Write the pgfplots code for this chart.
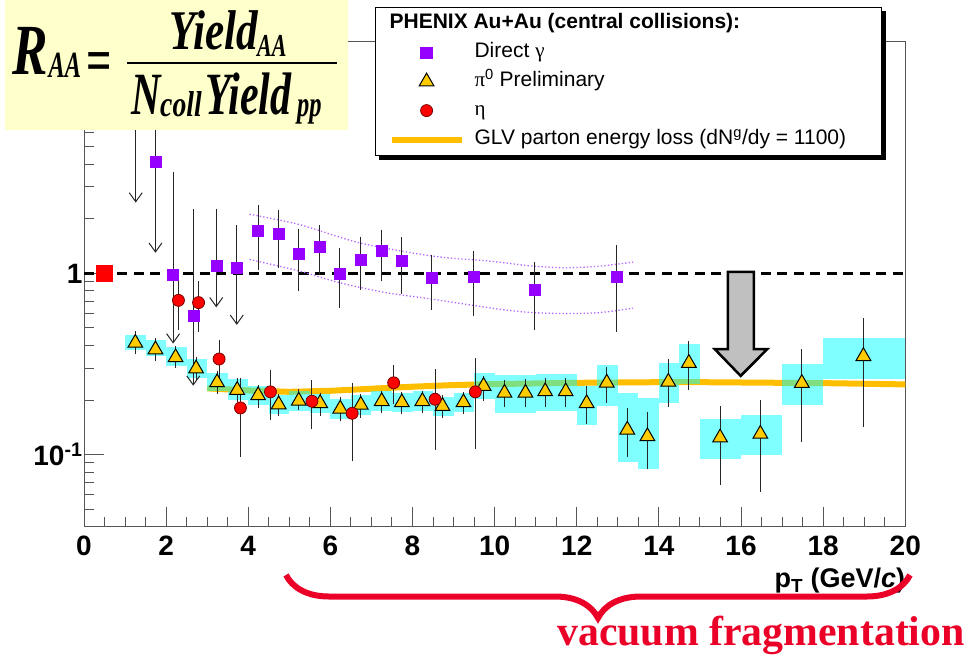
\documentclass[border=0pt]{standalone}
\usepackage{fontspec}
\setmainfont{Liberation Sans}
\newfontfamily\timesfont{Liberation Serif}
\usepackage{graphicx}
\usepackage{pgfplots}
\usepackage{pgfplotstable}
\pgfplotsset{compat=1.18}
\usetikzlibrary{arrows.meta,decorations.pathreplacing}

\definecolor{dgamma}{RGB}{150,0,255}
\definecolor{pizero}{RGB}{255,204,0}
\definecolor{etared}{RGB}{255,0,0}
\definecolor{etaedge}{RGB}{120,0,0}
\definecolor{glv}{RGB}{255,190,0}
\definecolor{sysbox}{RGB}{0,255,255}
\definecolor{bandline}{RGB}{180,100,255}
\definecolor{formulabg}{RGB}{255,255,204}
\definecolor{bracered}{RGB}{235,0,40}
\definecolor{axisgray}{RGB}{85,85,85}
\definecolor{arrowgray}{RGB}{192,192,192}

% bold italic serif, condensed horizontally: {size}{x scale}{text}
\newcommand\fm[3]{\scalebox{#2}[1]{\fontsize{#1}{#1}\timesfont\bfseries\itshape #3}}

\pgfplotsset{
  mleg/.style={legend image code/.code={\draw[##1] plot[only marks, mark repeat=2, mark phase=2] coordinates {(0pt,0pt) (35pt,0pt) (70pt,0pt)};}},
  lleg/.style={legend image code/.code={\draw[##1] (0pt,0pt) -- (70pt,0pt);}},
  ebar/.style={error bars/.cd, y dir=both, y explicit, error mark=-,
    error bar style={black!85, line width=1pt},
    error mark options={black!85, line width=1pt, mark size=2pt}},
  limit/.style={black!85, line width=1pt, -{Straight Barb[length=9pt,width=13pt,line width=1pt]}, forget plot},
}

% pi0 R_AA: pT, value, stat. minus, stat. plus
\pgfplotstableread{
x     y     em    ep
1.25  0.413 0.046 0.055
1.74  0.380 0.045 0.049
2.23  0.344 0.034 0.044
2.73  0.298 0.033 0.037
3.24  0.250 0.028 0.033
3.73  0.227 0.027 0.030
4.24  0.212 0.026 0.025
4.74  0.189 0.022 0.022
5.23  0.198 0.018 0.027
5.75  0.192 0.024 0.022
6.24  0.179 0.022 0.023
6.74  0.188 0.024 0.023
7.25  0.197 0.022 0.023
7.74  0.194 0.022 0.023
8.24  0.197 0.022 0.023
8.73  0.185 0.022 0.023
9.24  0.194 0.022 0.023
9.73  0.239 0.035 0.027
10.24 0.219 0.032 0.033
10.75 0.219 0.030 0.035
11.23 0.223 0.035 0.035
11.73 0.223 0.035 0.036
12.24 0.192 0.040 0.040
12.73 0.249 0.051 0.049
13.23 0.137 0.038 0.040
13.72 0.126 0.041 0.041
14.23 0.252 0.065 0.076
14.73 0.320 0.088 0.093
15.49 0.124 0.054 0.056
16.47 0.130 0.066 0.066
17.48 0.248 0.127 0.126
18.98 0.349 0.203 0.202
}\pizerotab

% pi0 systematic boxes: centre, lower edge, upper edge
\pgfplotstableread{
x     lo    hi
1.25  0.376 0.455
1.75  0.350 0.430
2.25  0.310 0.392
2.75  0.264 0.335
3.25  0.223 0.283
3.75  0.200 0.260
4.25  0.188 0.240
4.75  0.167 0.214
5.25  0.175 0.224
5.75  0.170 0.217
6.25  0.158 0.202
6.75  0.166 0.212
7.25  0.174 0.223
7.75  0.172 0.219
8.25  0.174 0.223
8.75  0.164 0.209
9.25  0.172 0.219
9.75  0.202 0.282
10.25 0.170 0.275
10.75 0.170 0.275
11.25 0.173 0.280
11.75 0.173 0.280
12.25 0.146 0.239
12.75 0.186 0.311
13.25 0.091 0.220
13.75 0.083 0.205
14.25 0.192 0.320
14.75 0.244 0.407
}\sysnarrow
\pgfplotstableread{
x     lo    hi
15.5  0.094 0.157
16.5  0.099 0.166
17.5  0.187 0.318
}\syswide
\pgfplotstableread{
x     lo    hi
19.0  0.260 0.440
}\syswidest

% eta R_AA
\pgfplotstableread{
x     y     em    ep
2.30  0.710 0.210 0.190
2.79  0.690 0.200 0.200
3.29  0.337 0.083 0.083
3.81  0.181 0.081 0.077
4.54  0.222 0.063 0.065
5.55  0.197 0.055 0.054
6.53  0.169 0.075 0.074
7.54  0.249 0.055 0.057
8.55  0.202 0.093 0.088
9.53  0.222 0.112 0.110
}\etatab

% direct photon R_AA with two-sided errors
\pgfplotstableread{
x     y     em    ep
4.24  1.710 0.635 0.610
4.73  1.650 0.553 0.540
5.22  1.288 0.464 0.422
5.74  1.413 0.413 0.387
6.23  1.000 0.339 0.339
6.73  1.194 0.360 0.364
7.24  1.333 0.406 0.363
7.74  1.169 0.376 0.383
8.47  0.942 0.295 0.293
9.48  0.954 0.359 0.346
10.98 0.817 0.319 0.314
12.97 0.954 0.466 0.449
}\gammaerr

% direct photon points whose errors end in limits
\pgfplotstableread{
x     y
1.74  4.120
2.17  0.979
2.66  0.582
3.22  1.097
3.72  1.075
}\gammalim

\begin{document}
\begin{tikzpicture}
\path[use as bounding box] (0pt,0pt) rectangle (973pt,-655pt);
\begin{axis}[
  at={(84pt,-526.7pt)}, anchor=south west,
  scale only axis, width=821.3pt, height=485pt,
  xmin=0, xmax=20, ymode=log, ymin=0.04, ymax=19,
  axis line style={axisgray, line width=1pt},
  tick style={axisgray, line width=1pt},
  major tick length=20pt, minor tick length=10pt,
  xtick pos=bottom, ytick pos=left, tick align=inside,
  xtick={0,2,...,20}, minor x tick num=3,
  xticklabels={0,2,4,6,8,10,12,14,16,18,20},
  ytick={0.1,1},
  yticklabels={10\textsuperscript{-1},1},
  minor ytick={0.04,0.05,0.06,0.07,0.08,0.09,0.2,0.3,0.4,0.5,0.6,0.7,0.8,0.9,2,3,4,5,6,7,8,9,10},
  ticklabel style={font=\fontsize{28}{30}\selectfont\bfseries},
  xticklabel style={yshift=-6pt},
  yticklabel style={xshift=2pt},
  xlabel={\textbf{p\textsubscript{T} (GeV/\textit{c})}},
  xlabel style={at={(axis description cs:1,0)}, anchor=base east, yshift=-61pt,
    font=\fontsize{27}{30}\selectfont, inner sep=0pt},
  legend style={name=phxleg, at={(0.3543,1.0715)}, anchor=north west,
    draw=black, line width=1.2pt, fill=white,
    font=\fontsize{21}{25}\selectfont,
    inner xsep=13pt, inner ysep=6pt, row sep=9pt, column sep=10pt,
    nodes={inner sep=0pt, text height=15pt, text depth=5pt}},
  legend cell align=left,
]
% legend entries
\addlegendimage{empty legend}
\addlegendentry{\hspace*{-85pt}\textbf{PHENIX Au+Au (central collisions):}}
\addlegendimage{mleg, mark=square*, mark size=5.5pt, draw=dgamma, fill=dgamma}
\addlegendentry{Direct {\timesfont γ}}
\addlegendimage{mleg, mark=triangle*, mark size=8.5pt, draw=black, fill=pizero, line width=1pt}
\addlegendentry{{\timesfont π}\textsuperscript{0} Preliminary}
\addlegendimage{mleg, mark=*, mark size=6pt, draw=etaedge, fill=etared, line width=0.8pt}
\addlegendentry{{\timesfont η}}
\addlegendimage{lleg, glv, line width=6pt}
\addlegendentry{GLV parton energy loss (dN\textsuperscript{g}/dy = 1100)\hspace*{22pt}}

% GLV calculation
\addplot[glv, line width=6pt, forget plot] coordinates {
 (3,0.232) (4,0.226) (5,0.222) (6,0.225) (7,0.231) (8,0.237) (9,0.242)
 (10,0.245) (11,0.247) (12,0.249) (13,0.250) (14,0.251) (15,0.251)
 (16,0.250) (17,0.249) (18,0.248) (19,0.246) (20,0.244)};

% pi0 systematic boxes
\addplot[draw=none, mark=none, forget plot, error bars/.cd, y dir=plus, y explicit,
  error mark=none, error bar style={draw=sysbox, draw opacity=0.5, line width=20.53pt}]
  table[x=x, y=lo, y error plus expr=\thisrow{hi}-\thisrow{lo}] {\sysnarrow};
\addplot[draw=none, mark=none, forget plot, error bars/.cd, y dir=plus, y explicit,
  error mark=none, error bar style={draw=sysbox, draw opacity=0.5, line width=41.07pt}]
  table[x=x, y=lo, y error plus expr=\thisrow{hi}-\thisrow{lo}] {\syswide};
\addplot[draw=none, mark=none, forget plot, error bars/.cd, y dir=plus, y explicit,
  error mark=none, error bar style={draw=sysbox, draw opacity=0.5, line width=82.13pt}]
  table[x=x, y=lo, y error plus expr=\thisrow{hi}-\thisrow{lo}] {\syswidest};

% unity
\addplot[black, line width=3.8pt, dash pattern=on 10pt off 6.5pt, forget plot]
  coordinates {(0,1) (20,1)};

% direct photon error band
\addplot[bandline, line width=1.3pt, dash pattern=on 1.3pt off 2.2pt, smooth, forget plot] coordinates {
 (4.03,2.12) (5.25,1.86) (6.71,1.475) (8.5,1.245) (9.88,1.169) (10.93,1.097)
 (11.75,1.075) (12.56,1.097) (13.37,1.154)};
\addplot[bandline, line width=1.3pt, dash pattern=on 1.3pt off 2.2pt, smooth, forget plot] coordinates {
 (4.03,1.194) (5.25,1.03) (6.22,0.889) (7.36,0.783) (8.5,0.72) (10.12,0.634)
 (10.93,0.608) (11.75,0.600) (12.56,0.608) (13.37,0.642)};

% direct photon limits
\addplot[limit] coordinates {(1.26,12) (1.26,2.46)};
\addplot[limit] coordinates {(1.74,12) (1.74,1.30)};
\addplot[limit] coordinates {(2.17,3.63) (2.17,0.41)};
\addplot[limit] coordinates {(2.66,2.28) (2.66,0.24)};
\addplot[limit] coordinates {(3.22,2.28) (3.22,0.65)};
\addplot[limit] coordinates {(3.72,1.84) (3.72,0.52)};
\addplot[only marks, mark=square*, mark size=5.5pt, draw=dgamma, fill=dgamma, forget plot]
  table[x=x, y=y] {\gammalim};
\addplot[only marks, mark=square*, mark size=5.5pt, draw=dgamma, fill=dgamma, forget plot, ebar]
  table[x=x, y=y, y error minus=em, y error plus=ep] {\gammaerr};

% pi0
\addplot[only marks, mark=triangle*, mark size=8.5pt, mark options={draw=black, fill=pizero, line width=1pt}, forget plot, ebar]
  table[x=x, y=y, y error minus=em, y error plus=ep] {\pizerotab};

% eta
\addplot[only marks, mark=*, mark size=6pt, mark options={draw=etaedge, fill=etared, line width=0.8pt}, forget plot, ebar]
  table[x=x, y=y, y error minus=em, y error plus=ep] {\etatab};

% normalisation point
\addplot[only marks, mark=square*, mark size=8pt, draw=red, fill=red, forget plot]
  coordinates {(0.5,1)};

% suppression arrow
\addplot[fill=arrowgray, draw=black, line width=2.5pt, forget plot] coordinates {
 (15.68,1.02) (16.31,1.02) (16.31,0.382) (16.64,0.382) (15.99,0.272) (15.36,0.382) (15.68,0.382)} -- cycle;
\end{axis}

% legend shadow
\fill[black] ([yshift=-4pt]phxleg.north east) rectangle ([xshift=4pt,yshift=-4pt]phxleg.south east);
\fill[black] ([xshift=4pt]phxleg.south west) rectangle ([xshift=4pt,yshift=-4pt]phxleg.south east);

% R_AA definition
\fill[formulabg] (5pt,0pt) rectangle (348pt,-130pt);
\node[anchor=base west, inner sep=0] at (12pt,-75pt) {\fm{72}{0.74}{R}};
\node[anchor=base west, inner sep=0] at (48.5pt,-78pt) {\fm{37}{0.66}{AA}};
\node[anchor=center, inner sep=0] at (99.5pt,-67.5pt) {\scalebox{0.72}[1]{\fontsize{62}{62}\timesfont\bfseries =}};
\draw[line width=2.6pt] (127pt,-63pt) -- (337pt,-63pt);
\node[anchor=base west, inner sep=0] at (169pt,-50pt) {\fm{56}{0.77}{Yield}};
\node[anchor=base west, inner sep=0] at (257pt,-56.5pt) {\fm{32}{0.69}{AA}};
\node[anchor=base west, inner sep=0] at (131pt,-115pt) {\fm{60}{0.68}{N}};
\node[anchor=base west, inner sep=0] at (160pt,-116.5pt) {\fm{36}{0.77}{coll}};
\node[anchor=base west, inner sep=0] at (205pt,-115pt) {\fm{60}{0.70}{Yield}};
\node[anchor=base west, inner sep=0] at (297pt,-117pt) {\fm{36}{0.68}{pp}};

% high-pT region
\draw[bracered, line width=6pt, decorate, decoration={brace, mirror, amplitude=43pt}]
  (286pt,-575pt) -- (910pt,-575pt);
\node[anchor=base west, inner sep=0, text=bracered] at (557pt,-645pt)
  {\fontsize{41.8}{43}\timesfont\bfseries vacuum fragmentation};
\end{tikzpicture}
\end{document}
